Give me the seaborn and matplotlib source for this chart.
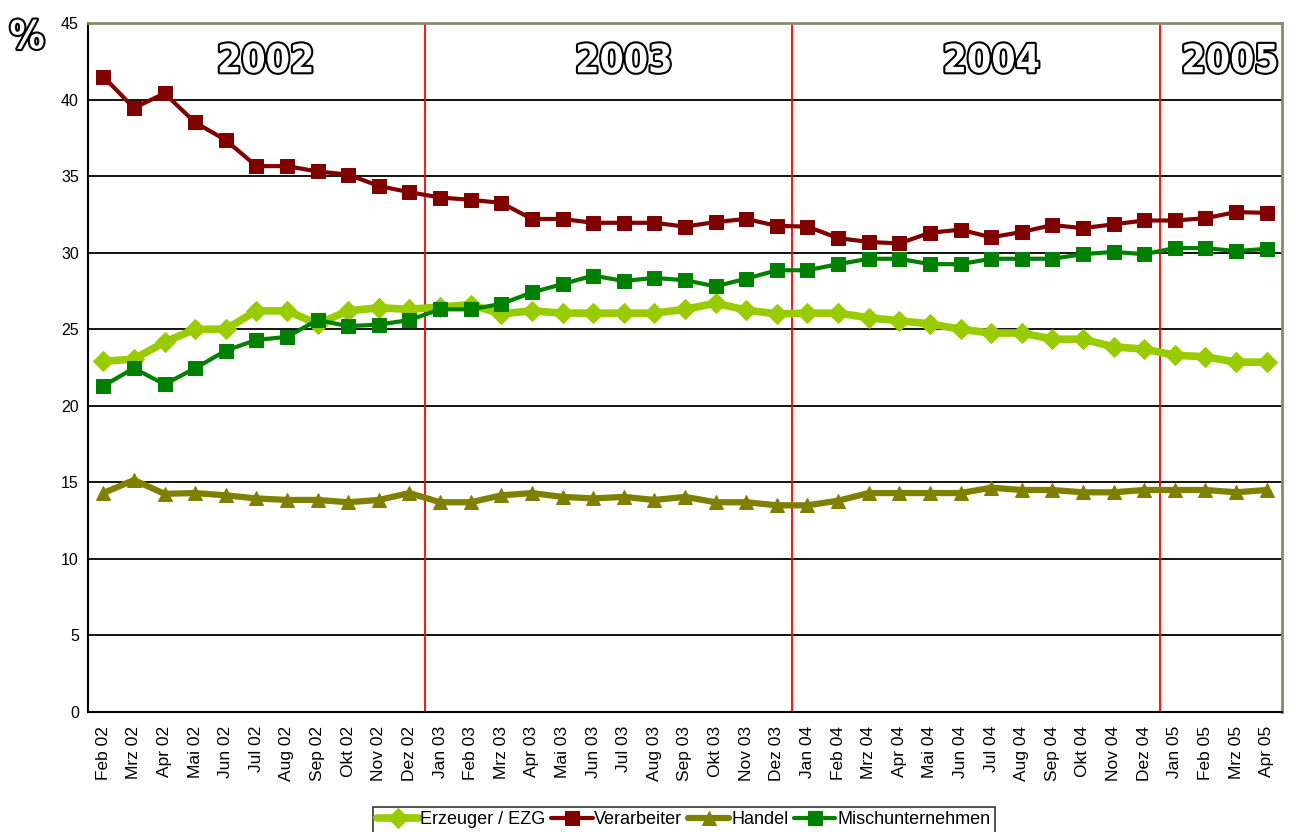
import numpy as np
import pandas as pd
import matplotlib
matplotlib.use("Agg")
import matplotlib.pyplot as plt
import matplotlib.patheffects as pe
import seaborn as sns

# DATA
months = ["Feb 02", "Mrz 02", "Apr 02", "Mai 02", "Jun 02", "Jul 02", "Aug 02", "Sep 02",
          "Okt 02", "Nov 02", "Dez 02",
          "Jan 03", "Feb 03", "Mrz 03", "Apr 03", "Mai 03", "Jun 03", "Jul 03", "Aug 03",
          "Sep 03", "Okt 03", "Nov 03", "Dez 03",
          "Jan 04", "Feb 04", "Mrz 04", "Apr 04", "Mai 04", "Jun 04", "Jul 04", "Aug 04",
          "Sep 04", "Okt 04", "Nov 04", "Dez 04",
          "Jan 05", "Feb 05", "Mrz 05", "Apr 05"]

erzeuger = [22.9, 23.05, 24.15, 25.0, 25.0, 26.2, 26.2, 25.35, 26.2, 26.4, 26.3,
            26.45, 26.6, 26.0, 26.2, 26.05, 26.05, 26.05, 26.05, 26.3, 26.7, 26.25, 26.0,
            26.05, 26.05, 25.75, 25.55, 25.35, 25.0, 24.75, 24.75, 24.35, 24.35, 23.85, 23.7,
            23.3, 23.2, 22.85, 22.85]

verarbeiter = [41.5, 39.45, 40.4, 38.5, 37.35, 35.65, 35.65, 35.3, 35.1, 34.35, 33.95,
               33.6, 33.45, 33.25, 32.2, 32.2, 31.95, 31.95, 31.95, 31.7, 32.0, 32.2, 31.75,
               31.7, 30.95, 30.7, 30.6, 31.3, 31.5, 31.0, 31.35, 31.8, 31.6, 31.85, 32.1,
               32.1, 32.25, 32.65, 32.6]

handel = [14.3, 15.15, 14.25, 14.3, 14.15, 13.95, 13.85, 13.85, 13.7, 13.85, 14.3,
          13.7, 13.7, 14.15, 14.3, 14.05, 13.95, 14.05, 13.85, 14.05, 13.7, 13.7, 13.5,
          13.5, 13.8, 14.3, 14.3, 14.3, 14.3, 14.65, 14.5, 14.5, 14.35, 14.35, 14.5,
          14.5, 14.5, 14.35, 14.5]

misch = [21.3, 22.45, 21.4, 22.45, 23.6, 24.3, 24.5, 25.6, 25.2, 25.3, 25.6,
         26.3, 26.3, 26.65, 27.4, 27.95, 28.5, 28.15, 28.35, 28.2, 27.8, 28.3, 28.85,
         28.85, 29.25, 29.6, 29.6, 29.25, 29.25, 29.6, 29.6, 29.6, 29.9, 30.05, 29.9,
         30.3, 30.3, 30.1, 30.25]

years = ["2002", "2003", "2004", "2005"]
year_breaks = [10.5, 22.5, 34.5]

# SETTINGS
sns.set_style("white")
plt.rcParams["font.family"] = ["Liberation Sans", "DejaVu Sans"]
plt.rcParams["text.color"] = "black"
plt.rcParams["xtick.color"] = "black"
plt.rcParams["ytick.color"] = "black"

x = np.arange(len(months))

fig = plt.figure(figsize=(12.9, 8.32), dpi=100)
ax = fig.add_axes([0.0682, 0.1442, 0.9256, 0.8282])

# horizontal gridlines
for yv in range(5, 45, 5):
    ax.axhline(yv, color="black", lw=1.3, zorder=1)

# year separators
for xb in year_breaks:
    ax.axvline(xb, color="red", lw=1.3, zorder=2)

series = [
    ("Erzeuger / EZG", erzeuger, "#99cc00", "D", 5.5, 10),
    ("Verarbeiter", verarbeiter, "#800000", "s", 3, 10),
    ("Handel", handel, "#808000", "^", 4.5, 10),
    ("Mischunternehmen", misch, "#008000", "s", 3, 10),
]

for name, vals, col, mk, lw, ms in series:
    sns.lineplot(x=x, y=vals, ax=ax, color=col, marker=mk, lw=lw,
                 markersize=ms, markeredgecolor=col, label=name, zorder=3)

ax.set_xlim(-0.5, len(months) - 0.5)
ax.set_ylim(0, 45)
ax.set_yticks(range(0, 46, 5))
ax.set_xticks(x)
ax.set_xticklabels(months, rotation=90, fontsize=12.5)
ax.set_xticks(np.arange(-0.5, len(months), 1), minor=True)
ax.tick_params(axis="x", which="major", length=0, pad=10)
ax.tick_params(axis="x", which="minor", length=6, width=1.3, direction="out", color="black")
ax.tick_params(axis="y", length=6, width=1.3, direction="inout", labelsize=11.5, color="black")

for s in ["left", "bottom"]:
    ax.spines[s].set_color("black")
    ax.spines[s].set_linewidth(1.5)
for s in ["top", "right"]:
    ax.spines[s].set_color("#8a8a66")
    ax.spines[s].set_linewidth(2)

# outlined year labels
outline = [pe.withStroke(linewidth=3, foreground="black")]
year_x = [5.3, 17.0, 29.0, 36.8]
for yr, xp in zip(years, year_x):
    ax.text(xp, 42.5, yr, ha="center", va="center", fontsize=28, fontweight="bold",
            color="white", family="DejaVu Sans", fontstretch="condensed",
            path_effects=outline, zorder=4)

fig.text(0.021, 0.955, "%", ha="center", va="center", fontsize=28, fontweight="bold",
         color="white", family="DejaVu Sans", fontstretch="condensed", path_effects=outline)

ax.get_legend().remove()
handles, labels = ax.get_legend_handles_labels()
leg = fig.legend(handles, labels, loc="lower center", bbox_to_anchor=(0.53, -0.012),
                 ncol=4, frameon=True, fancybox=False, fontsize=13,
                 handlelength=2.3, handletextpad=0.1, columnspacing=0.3,
                 borderpad=0.25, edgecolor="black")
leg.get_frame().set_linewidth(1.2)

plt.savefig("out.png", dpi=100)
